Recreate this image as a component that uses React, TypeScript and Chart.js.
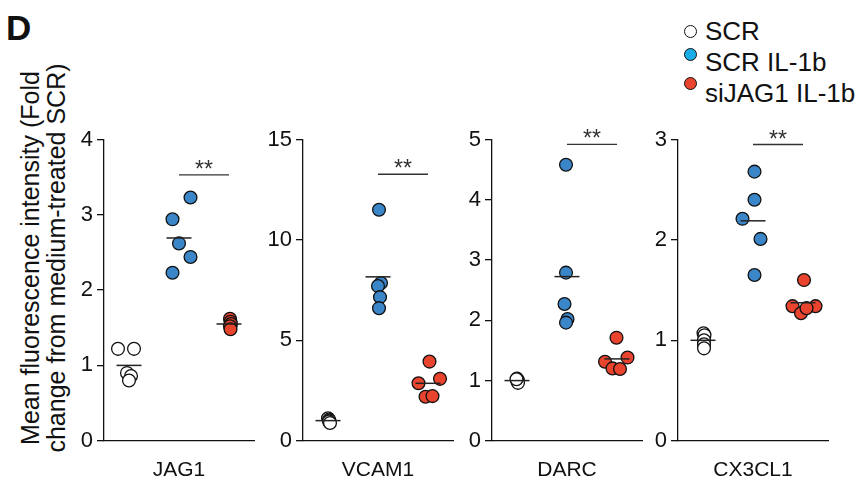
import React, { useEffect, useRef } from 'react';
import { Chart, registerables } from 'chart.js';

Chart.register(...registerables);

const FONT = '"Liberation Sans", Arial, Helvetica, sans-serif';

// ---- data ----
const genes = ['JAG1', 'VCAM1', 'DARC', 'CX3CL1'];
const groupNames = ['SCR', 'SCR IL-1b', 'siJAG1 IL-1b'];
const yMaxes = [4, 15, 5, 3];
const ySteps = [1, 5, 1, 1];

const scrValues = [
  [1.22, 1.22, 0.9, 0.86, 0.8],
  [1.12, 1.05, 1.0, 0.95, 0.88],
  [1.03, 1.0, 0.98, 0.96, 1.02],
  [1.07, 1.05, 1.0, 0.96, 0.92],
];
const scrJitter = [
  [-0.22, 0.1, -0.04, 0.04, 0.0],
  [0.0, 0.02, 0.03, 0.02, 0.04],
  [0.0, 0.02, 0.01, 0.02, -0.01],
  [0.01, 0.03, 0.02, 0.02, 0.02],
];
const il1bValues = [
  [2.94, 3.23, 2.62, 2.44, 2.23],
  [11.5, 7.85, 7.7, 7.15, 6.6],
  [4.58, 2.79, 2.27, 2.02, 1.96],
  [2.68, 2.4, 2.21, 2.01, 1.65],
];
const il1bJitter = [
  [-0.13, 0.23, 0.0, 0.23, -0.13],
  [0.02, 0.06, 0.0, 0.04, 0.02],
  [-0.02, -0.02, -0.05, 0.01, -0.02],
  [0.03, 0.03, -0.21, 0.15, 0.03],
];
const siJagValues = [
  [1.62, 1.58, 1.55, 1.52, 1.48],
  [3.94, 3.08, 2.86, 2.19, 2.22],
  [1.71, 1.38, 1.31, 1.2, 1.19],
  [1.6, 1.34, 1.34, 1.27, 1.32],
];
const siJagJitter = [
  [0.02, 0.03, 0.04, 0.02, 0.03],
  [0.03, 0.24, -0.19, -0.05, 0.09],
  [-0.01, 0.21, -0.24, -0.09, 0.06],
  [0.02, -0.21, 0.25, -0.04, 0.07],
];
const sigLevels = [3.53, 13.27, 4.92, 2.95];
const sigLabels = ['**', '**', '**', '**'];

// ---- styles / layout ----
const groupFill = ['#ffffff', '#3b86c8', '#e8442e'];
const legendFill = ['#ffffff', '#19ace6', '#e8442e'];
const groupCenters = [0.5, 1.5, 2.5];
const axisLeft = [104, 303, 492, 678];
const Y_AXIS_W = 60;
const PLOT_W = 150;
const RIGHT_PAD = 15;
const CANVAS_W = Y_AXIS_W + PLOT_W + RIGHT_PAD;
const CANVAS_H = 484;
const AREA_TOP = 139.5;
const AREA_BOTTOM = 440.7;
const INK = '#111';

const mean = (a: number[]) => a.reduce((s, v) => s + v, 0) / a.length;

function Panel({ idx }: { idx: number }) {
  const ref = useRef<HTMLCanvasElement | null>(null);
  useEffect(() => {
    const canvas = ref.current;
    if (!canvas) return;
    const vals = [scrValues[idx], il1bValues[idx], siJagValues[idx]];
    const jit = [scrJitter[idx], il1bJitter[idx], siJagJitter[idx]];

    const pointSets = vals.map((v, g) => ({
      label: groupNames[g],
      data: v.map((y, k) => ({ x: groupCenters[g] + jit[g][k], y })),
      pointRadius: 6.4,
      pointHoverRadius: 6.4,
      pointBackgroundColor: groupFill[g],
      pointBorderColor: '#111',
      pointBorderWidth: 1.3,
      showLine: false,
      order: 2,
      clip: false as any,
    }));
    const meanSets = vals.map((v, g) => {
      const m = mean(v);
      return {
        label: groupNames[g] + ' mean',
        data: [
          { x: groupCenters[g] - 0.25, y: m },
          { x: groupCenters[g] + 0.25, y: m },
        ],
        showLine: true,
        borderColor: '#222',
        borderWidth: 1.5,
        pointRadius: 0,
        order: 0,
        clip: false as any,
      };
    });
    const sigSet = {
      label: 'sig',
      data: [
        { x: groupCenters[1], y: sigLevels[idx] },
        { x: groupCenters[2], y: sigLevels[idx] },
      ],
      showLine: true,
      borderColor: '#333',
      borderWidth: 1.3,
      pointRadius: 0,
      order: 0,
      clip: false as any,
    };

    const starsPlugin = {
      id: 'sigStars' + idx,
      afterDatasetsDraw(chart: any) {
        const { ctx, scales } = chart;
        const x = scales.x.getPixelForValue((groupCenters[1] + groupCenters[2]) / 2);
        const y = scales.y.getPixelForValue(sigLevels[idx]);
        ctx.save();
        ctx.fillStyle = '#333';
        ctx.font = `23px ${FONT}`;
        ctx.textAlign = 'center';
        ctx.textBaseline = 'alphabetic';
        ctx.fillText(sigLabels[idx], x, y + 2);
        ctx.restore();
      },
    };

    const chart = new Chart(canvas, {
      type: 'scatter',
      data: { datasets: [...meanSets, sigSet, ...pointSets] as any },
      options: {
        animation: false,
        responsive: false,
        maintainAspectRatio: false,
        events: [],
        layout: { padding: { top: AREA_TOP, right: RIGHT_PAD, left: 0, bottom: 0 } },
        plugins: { legend: { display: false }, tooltip: { enabled: false } },
        scales: {
          x: {
            type: 'linear',
            min: 0,
            max: 3,
            ticks: { display: false },
            grid: { display: false },
            border: { display: true, color: INK, width: 1.3 },
            title: {
              display: true,
              text: genes[idx],
              color: INK,
              font: { family: FONT, size: 21 },
              padding: { top: 0, bottom: 1 },
            },
            afterFit: (s: any) => {
              s.height = CANVAS_H - AREA_BOTTOM;
            },
          },
          y: {
            type: 'linear',
            min: 0,
            max: yMaxes[idx],
            ticks: {
              stepSize: ySteps[idx],
              color: INK,
              font: { family: FONT, size: 22 },
              padding: 4,
            },
            grid: {
              display: true,
              drawOnChartArea: false,
              drawTicks: true,
              tickLength: 7,
              color: INK,
              lineWidth: 1.3,
            },
            border: { display: true, color: INK, width: 1.3 },
            afterFit: (s: any) => {
              s.width = Y_AXIS_W;
            },
          },
        },
      } as any,
      plugins: [starsPlugin],
    });
    return () => chart.destroy();
  }, [idx]);

  return (
    <canvas
      ref={ref}
      width={CANVAS_W}
      height={CANVAS_H}
      style={{
        position: 'absolute',
        left: axisLeft[idx] - Y_AXIS_W,
        top: 0,
        width: CANVAS_W,
        height: CANVAS_H,
      }}
    />
  );
}

const legendTextTop = [17.8, 48.8, 80.3];
const legendDotY = [31, 54, 83];

export default function App() {
  return (
    <div
      style={{
        position: 'absolute',
        left: 0,
        top: 0,
        width: 862,
        height: 484,
        background: '#fff',
        overflow: 'hidden',
        fontFamily: FONT,
        color: INK,
      }}
    >
      <div
        style={{
          position: 'absolute',
          left: 6,
          top: 10.4,
          fontSize: 35,
          lineHeight: '35px',
          fontWeight: 'bold',
          color: '#111',
        }}
      >
        D
      </div>
      <div
        style={{
          position: 'absolute',
          left: 43 - 220,
          top: 258 - 26,
          width: 440,
          height: 52,
          fontSize: 25,
          lineHeight: '26px',
          textAlign: 'center',
          whiteSpace: 'nowrap',
          transform: 'rotate(-90deg)',
          transformOrigin: '50% 50%',
        }}
      >
        <div>Mean fluorescence intensity (Fold</div>
        <div>change from medium-treated SCR)</div>
      </div>
      {groupNames.map((name, g) => (
        <React.Fragment key={name}>
          <div
            style={{
              position: 'absolute',
              left: 690 - 6.5,
              top: legendDotY[g] - 6.5,
              width: 11,
              height: 11,
              borderRadius: '50%',
              border: '1.2px solid #111',
              background: legendFill[g],
            }}
          />
          <div
            style={{
              position: 'absolute',
              left: 705,
              top: legendTextTop[g],
              fontSize: 26,
              lineHeight: '26px',
              whiteSpace: 'nowrap',
            }}
          >
            {name}
          </div>
        </React.Fragment>
      ))}
      {genes.map((_, i) => (
        <Panel key={i} idx={i} />
      ))}
    </div>
  );
}
